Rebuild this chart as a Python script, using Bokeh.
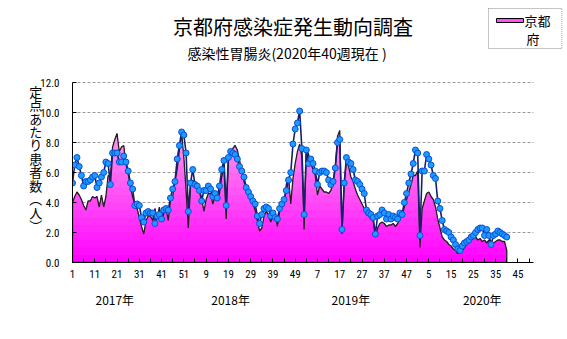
import numpy as np
from bokeh.plotting import figure
from bokeh.models import Range1d, FixedTicker, Label, LinearAxis, PrintfTickFormatter
from bokeh.embed import file_html
from bokeh.resources import INLINE

title_text = "京都府感染症発生動向調査"
subtitle_text = "感染性胃腸炎(2020年40週現在 )"
y_title_chars = ["定", "点", "あ", "た", "り", "患", "者", "数", "︵", "人", "︶"]
legend_lines = ["京都", "府"]
year_labels = ["2017年", "2018年", "2019年", "2020年"]
week_tick_labels = ["1", "11", "21", "31", "41", "51", "9", "19", "29", "39", "49",
                    "7", "17", "27", "37", "47", "5", "15", "25", "35", "45"]
y_ticks = [0, 2, 4, 6, 8, 10, 12]

# Kyoto (area)
kyoto = [
    # 2017
    4.0, 4.4, 4.7, 4.5, 4.2, 3.8, 3.5, 4.1, 4.1, 4.4,
    4.3, 4.4, 3.7, 4.5, 3.7, 4.4, 5.8, 5.7, 7.7, 8.2,
    8.6, 7.4, 7.7, 7.8, 6.6, 5.9, 5.1, 4.4, 3.8, 3.6,
    3.0, 2.4, 1.9, 2.8, 3.1, 3.1, 2.8, 3.6, 2.9, 3.7,
    2.7, 3.3, 3.6, 2.8, 4.2, 4.4, 5.4, 6.2, 7.5, 8.6,
    7.0, 4.8,
    # 2018
    2.3, 5.1, 5.5, 5.2, 5.0, 4.8, 4.3, 3.4, 4.2, 4.6,
    4.6, 3.9, 4.4, 4.1, 4.6, 5.7, 6.4, 2.9, 6.8, 7.3,
    7.6, 7.8, 7.5, 6.8, 6.2, 5.4, 4.9, 4.6, 4.1, 3.9,
    3.5, 2.8, 2.1, 2.3, 3.1, 3.4, 3.2, 2.7, 3.2, 3.4,
    2.4, 3.4, 3.7, 3.9, 5.2, 5.7, 3.9, 5.6, 6.6, 7.4,
    7.9, 7.0,
    # 2019
    2.2, 7.6, 7.2, 6.6, 6.2, 5.8, 4.5, 5.1, 4.9, 4.7,
    4.7, 4.6, 4.8, 5.3, 6.4, 8.4, 8.8, 1.9, 5.2, 6.8,
    6.4, 5.7, 5.4, 4.9, 4.5, 4.2, 3.9, 3.6, 3.2, 3.1,
    2.9, 2.8, 1.7, 2.3, 2.6, 2.7, 2.6, 2.4, 2.5, 2.5,
    2.6, 2.4, 2.6, 2.9, 3.2, 3.7, 4.2, 4.7, 5.2, 5.8,
    5.8, 6.1,
    # 2020
    1.0, 3.6, 4.1, 4.6, 4.7, 4.4, 4.2, 3.7, 2.9, 2.3,
    1.7, 1.5, 1.4, 1.2, 1.1, 0.9, 0.8, 0.6, 0.7, 0.8,
    1.0, 1.2, 1.4, 1.5, 1.6, 1.7, 1.5, 1.6, 1.4, 1.5,
    1.3, 1.5, 1.4, 1.3, 1.4, 1.5, 1.5, 1.4, 1.4, 0.8,
]

# second series (line with markers)
national = [
    # 2017
    5.3, 6.5, 7.0, 6.4, 5.8, 5.1, 5.4, 5.4, 5.5, 5.7,
    5.8, 5.0, 5.3, 5.7, 6.0, 6.7, 6.6, 5.2, 7.3, 7.3,
    7.3, 6.7, 6.7, 7.1, 6.7, 6.1, 5.3, 4.9, 3.8, 3.9,
    3.8, 3.0, 2.7, 3.3, 3.4, 3.3, 3.3, 2.6, 3.1, 3.2,
    2.9, 3.5, 3.6, 3.5, 4.3, 4.9, 5.4, 6.9, 7.8, 8.7,
    8.5, 7.3,
    # 2018
    3.4, 5.3, 6.2, 5.2, 5.1, 4.8, 4.1, 4.8, 4.8, 5.1,
    4.9, 4.4, 4.6, 4.3, 5.1, 6.2, 6.8, 3.8, 7.0, 7.4,
    7.3, 7.2, 6.9, 6.4, 6.1, 5.7, 5.0, 4.7, 4.4, 4.1,
    3.9, 3.1, 2.6, 3.2, 3.6, 3.7, 3.6, 3.1, 3.3, 3.0,
    2.9, 3.6, 3.9, 4.2, 4.8, 5.5, 6.0, 7.9, 8.9, 9.3,
    10.1, 7.6,
    # 2019
    3.2, 7.5, 6.6, 6.9, 6.6, 6.1, 5.2, 6.0, 6.1, 6.1,
    6.0, 5.5, 5.2, 5.4, 6.3, 8.0, 8.2, 2.2, 5.3, 7.0,
    6.7, 6.6, 6.2, 5.5, 5.4, 5.2, 4.9, 4.6, 3.5, 3.3,
    3.2, 3.0, 1.9, 3.1, 3.2, 3.5, 3.3, 2.9, 3.2, 2.9,
    3.1, 3.0, 2.9, 3.3, 3.2, 4.0, 4.6, 5.3, 5.9, 6.6,
    7.5, 7.3,
    # 2020
    1.8, 6.1, 6.1, 7.2, 6.9, 6.5, 5.8, 5.6, 4.1, 3.6,
    2.8, 2.2, 2.1, 2.0, 1.7, 1.5, 1.2, 0.9, 0.8, 1.1,
    1.3, 1.4, 1.5, 1.7, 1.8, 2.0, 2.2, 2.3, 2.3, 1.8,
    2.2, 1.8, 1.2, 1.8, 1.9, 2.1, 2.0, 1.9, 1.8, 1.7,
]

CJK = "Noto Sans CJK JP"
NARROW = "Liberation Sans Narrow, Roboto Condensed, DejaVu Sans Condensed, sans-serif"


def grad_color(v):
    t = v / 12.0
    return "#%02x%02x%02x" % (255, int(round(215 * t)), int(round(255 - 25 * t)))


W, HGT = 567, 339
LEFT, RIGHT, BOTTOM = 72, 5, 77
AXIS_END = 207                      # last category position on the week axis
px_per_week = 461.0 / AXIS_END      # week axis spans 72..533 px
px_per_unit = 15.0
frame_w = W - LEFT - RIGHT
frame_h = HGT - BOTTOM

x = np.arange(len(kyoto))
k = np.array(kyoto)

p = figure(width=W, height=HGT, output_backend="svg", toolbar_location=None,
           x_range=Range1d(0, frame_w / px_per_week), y_range=Range1d(0, frame_h / px_per_unit),
           min_border_left=LEFT, min_border_right=RIGHT, min_border_top=0, min_border_bottom=BOTTOM,
           outline_line_color=None, background_fill_color="white", border_fill_color="white")
# pixel-like ranges for the header texts and the legend
p.extra_x_ranges = {"px": Range1d(LEFT, W - RIGHT)}
p.extra_y_ranges = {"py": Range1d(frame_h, 0)}

# horizontal dashed grid lines, limited to the week axis extent
p.segment(x0=0, x1=AXIS_END, y0=y_ticks[1:], y1=y_ticks[1:],
          line_color="#9a9a9a", line_width=1, line_dash="3 2")

# gradient area (stacked overlapping bands, bottom magenta -> top pink)
for lo in np.arange(0, 12.0, 0.5):
    p.varea(x=x, y1=np.minimum(k, lo), y2=k, fill_color=grad_color(lo + 0.25), fill_alpha=1.0)

ox = np.concatenate([[x[0]], x, [x[-1]]])
oy = np.concatenate([[0.0], k, [0.0]])
p.patch(ox, oy, fill_alpha=0, line_color="#202020", line_width=1.3)

p.line(x, national, line_color="#14206e", line_width=1.6)
p.scatter(x, national, size=6, marker="circle", fill_color="#1e9bff", line_color="#0a4fd8", line_width=1)

# header texts
p.add_layout(Label(x=292.5, y=26, x_range_name="px", y_range_name="py", text=title_text,
                   text_font=CJK, text_font_size="20px", text_align="center",
                   text_baseline="middle", text_color="black"))
p.add_layout(Label(x=286.5, y=52, x_range_name="px", y_range_name="py", text=subtitle_text,
                   text_font=CJK, text_font_size="14px", text_align="center",
                   text_baseline="middle", text_color="black"))

# legend
p.quad(left=488, right=561.5, top=8, bottom=48, x_range_name="px", y_range_name="py",
       fill_color="white", line_color="#8a8a8a", line_width=1, line_dash="1 1")
p.quad(left=496, right=523, top=18, bottom=22, x_range_name="px", y_range_name="py",
       fill_color=grad_color(4.5), line_color="black", line_width=1)
p.add_layout(Label(x=524, y=19.5, x_range_name="px", y_range_name="py", text=legend_lines[0],
                   text_font=CJK, text_font_size="13px", text_align="left",
                   text_baseline="middle", text_color="black"))
p.add_layout(Label(x=526, y=38, x_range_name="px", y_range_name="py", text=legend_lines[1],
                   text_font=CJK, text_font_size="13px", text_align="left",
                   text_baseline="middle", text_color="black"))

# x axis (week numbers)
xt = list(range(0, 10 * len(week_tick_labels), 10))
p.xaxis.ticker = FixedTicker(ticks=xt, minor_ticks=list(range(5, AXIS_END, 10)))
p.xaxis.bounds = (0, AXIS_END)
p.xaxis.major_label_overrides = {t: s for t, s in zip(xt, week_tick_labels)}
p.xaxis.major_tick_in = 4
p.xaxis.major_tick_out = 0
p.xaxis.minor_tick_in = 4
p.xaxis.minor_tick_out = 0
p.xaxis.major_label_standoff = 7
p.xaxis.major_label_text_font = NARROW
p.xaxis.major_label_text_font_size = "11px"
p.xaxis.major_label_text_color = "black"
p.xaxis.axis_line_color = "black"
p.xaxis.major_tick_line_color = "black"
p.xaxis.minor_tick_line_color = "black"

# second axis below: year labels
year_pos = [19, 71, 125, 184]
yax = LinearAxis(ticker=FixedTicker(ticks=year_pos), bounds=(0, AXIS_END),
                 major_label_overrides={t: s for t, s in zip(year_pos, year_labels)},
                 axis_line_color=None, major_tick_line_color=None, minor_tick_line_color=None,
                 major_label_standoff=4, major_label_text_font=CJK,
                 major_label_text_font_size="12px", major_label_text_color="black")
p.add_layout(yax, "below")

# y axis
p.yaxis.ticker = FixedTicker(ticks=y_ticks)
p.yaxis.bounds = (0, 12)
p.yaxis.formatter = PrintfTickFormatter(format="%.1f")
p.yaxis.major_tick_in = 4
p.yaxis.major_tick_out = 0
p.yaxis.minor_tick_line_color = None
p.yaxis.major_label_standoff = 13
p.yaxis.major_label_text_font = NARROW
p.yaxis.major_label_text_font_size = "11px"
p.yaxis.major_label_text_color = "black"
p.yaxis.axis_line_color = "black"
p.yaxis.axis_label = "\n".join(["\u3000"] * 4 + y_title_chars)
p.yaxis.axis_label_orientation = "horizontal"
p.yaxis.axis_label_standoff = -5
p.yaxis.axis_label_text_font = CJK
p.yaxis.axis_label_text_font_size = "13px"
p.yaxis.axis_label_text_font_style = "normal"
p.yaxis.axis_label_text_line_height = 0.71
p.yaxis.axis_label_text_color = "black"

p.xgrid.visible = False
p.ygrid.visible = False

open("out.html", "w").write(file_html(p, INLINE))
